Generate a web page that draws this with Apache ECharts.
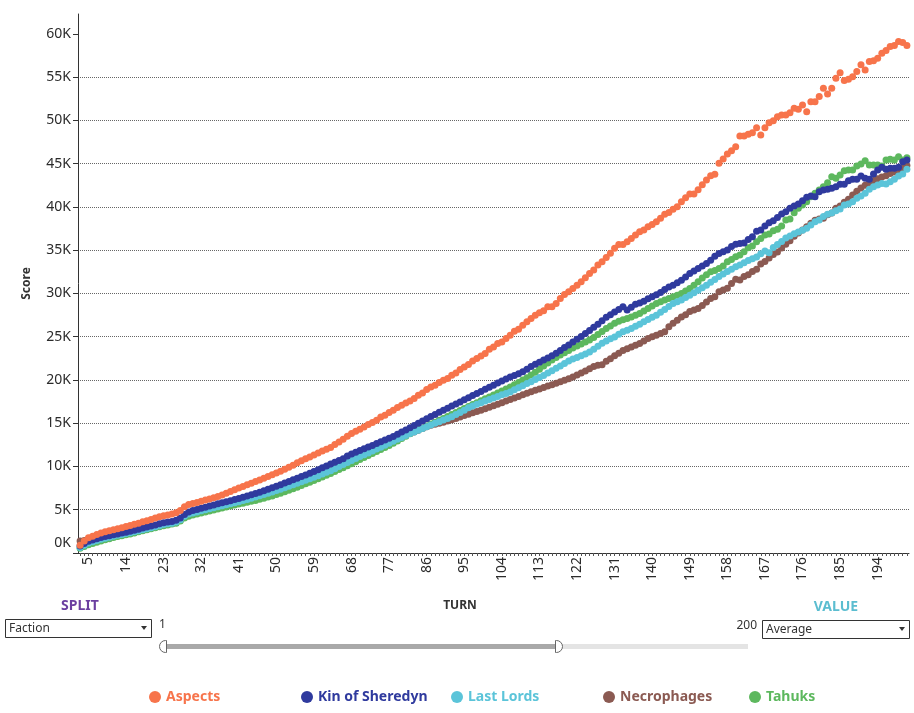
<!DOCTYPE html>
<html lang="en">

<head>
    <meta charset="UTF-8">
    <title>Score by turn</title>
    <style type="text/css">
        html, body { margin: 0; padding: 0; background: #fff; }
        #main { width: 914px; height: 713px; }
    </style>
</head>

<body>
    <div id="main"></div>
    <script src="https://cdn.jsdelivr.net/npm/echarts@6/dist/echarts.min.js"></script>
    <script type="text/javascript">
        // turns 3..201 on the x axis
        var turns = [];
        for (var t = 3; t <= 201; t++) turns.push(String(t));

        var yTicks = [0, 5000, 10000, 15000, 20000, 25000, 30000, 35000, 40000, 45000, 50000, 55000, 60000];

        var factions = ['Aspects', 'Kin of Sheredyn', 'Last Lords', 'Necrophages', 'Tahuks'];
        var colors = ['#f7744b', '#2f3a9e', '#5bc4d9', '#8b5a52', '#5db85e'];

        var aspects = [
            900, 1400, 1750, 1950, 2150, 2300, 2450, 2580, 2700, 2800,
            2920, 3050, 3180, 3330, 3450, 3600, 3720, 3880, 4050, 4180,
            4300, 4400, 4520, 4650, 4900, 5350, 5600, 5720, 5850, 5980,
            6120, 6250, 6400, 6530, 6700, 6900, 7100, 7320, 7520, 7700,
            7880, 8050, 8250, 8450, 8650, 8850, 9050, 9250, 9450, 9680,
            9900, 10150, 10420, 10650, 10880, 11100, 11330, 11550, 11780, 11980,
            12180, 12530, 12830, 13140, 13490, 13800, 14070, 14300, 14570, 14840,
            15070, 15340, 15730, 15920, 16230, 16500, 16810, 17080, 17350, 17580,
            17850, 18230, 18500, 18890, 19190, 19390, 19700, 19970, 20170, 20550,
            20810, 21210, 21510, 21790, 22200, 22480, 22780, 23060, 23560, 23820,
            24220, 24400, 24800, 25180, 25640, 25870, 26330, 26720, 27110, 27490,
            27760, 27990, 28450, 28450, 28840, 29420, 29890, 30190, 30580, 30960,
            31340, 31810, 32310, 32700, 33280, 33660, 34150, 34650, 35210, 35670,
            35670, 35970, 36360, 36750, 37130, 37320, 37710, 37980, 38290, 38680,
            39140, 39370, 39720, 40020, 40600, 41060, 41490, 41490, 42000, 42570,
            43110, 43610, 43770, 45040, 45540, 46120, 46500, 46960, 48200, 48200,
            48390, 48580, 49160, 48320, 49160, 49740, 49970, 50430, 50630, 50630,
            50900, 51400, 51290, 51790, 51010, 52170, 52170, 52750, 53720, 53060,
            53720, 54880, 55520, 54600, 54760, 55060, 55640, 56420, 55840, 56800,
            56910, 57190, 57770, 58070, 58530, 58650, 59110, 59000, 58650
        ];

        var kinOfSheredyn = [
            800, 1100, 1350, 1500, 1650, 1780, 1900, 2000, 2100, 2200,
            2300, 2400, 2500, 2620, 2750, 2880, 3000, 3120, 3250, 3380,
            3500, 3580, 3650, 3780, 4050, 4450, 4750, 4900, 5030, 5160,
            5290, 5420, 5550, 5680, 5800, 5920, 6050, 6180, 6300, 6430,
            6580, 6730, 6880, 7030, 7200, 7380, 7550, 7720, 7900, 8080,
            8270, 8460, 8650, 8840, 9030, 9230, 9430, 9630, 9840, 10050,
            10300, 10500, 10700, 10900, 11200, 11450, 11650, 11850, 12050, 12250,
            12430, 12650, 12850, 13050, 13250, 13480, 13720, 13980, 14230, 14480,
            14740, 15000, 15250, 15520, 15780, 16020, 16260, 16500, 16740, 16980,
            17220, 17460, 17700, 17950, 18200, 18430, 18670, 18920, 19160, 19400,
            19640, 19880, 20120, 20350, 20530, 20720, 20950, 21250, 21560, 21810,
            22050, 22300, 22550, 22800, 23100, 23420, 23740, 24050, 24380, 24700,
            25030, 25380, 25720, 26080, 26450, 26850, 27250, 27550, 27850, 28150,
            28450, 28080, 28400, 28760, 28900, 29100, 29400, 29620, 29850, 30100,
            30450, 30750, 30960, 31250, 31540, 31900, 32310, 32600, 32890, 33160,
            33470, 33850, 34300, 34630, 34810, 35010, 35420, 35700, 35780, 35830,
            36250, 36550, 37200, 37330, 37790, 38170, 38400, 38790, 39180, 39440,
            39840, 40100, 40330, 40720, 41110, 41260, 41180, 41760, 41950, 42030,
            42150, 42330, 42610, 42610, 43030, 43190, 43190, 43570, 43310, 43190,
            43800, 44270, 44580, 44350, 44460, 44460, 44580, 45230, 45420
        ];

        var lastLords = [
            650, 900, 1150, 1300, 1450, 1580, 1700, 1820, 1930, 2040,
            2140, 2240, 2340, 2450, 2570, 2690, 2800, 2920, 3040, 3160,
            3280, 3370, 3450, 3570, 3850, 4250, 4500, 4630, 4750, 4870,
            4990, 5110, 5230, 5350, 5460, 5570, 5690, 5810, 5930, 6060,
            6190, 6330, 6470, 6610, 6760, 6910, 7060, 7220, 7380, 7550,
            7720, 7890, 8060, 8230, 8400, 8580, 8760, 8940, 9130, 9320,
            9520, 9750, 9990, 10230, 10470, 10700, 10930, 11150, 11360, 11560,
            11780, 12010, 12230, 12460, 12690, 12910, 13140, 13360, 13580, 13800,
            14000, 14200, 14400, 14600, 14800, 14990, 15180, 15370, 15560, 15760,
            16000, 16250, 16500, 16780, 17000, 17200, 17380, 17560, 17750, 17920,
            18100, 18280, 18450, 18620, 18860, 19100, 19340, 19580, 19800, 20050,
            20290, 20530, 20800, 21070, 21340, 21620, 21900, 22200, 22430, 22600,
            22800, 23000, 23240, 23550, 23900, 24250, 24500, 24750, 24980, 25270,
            25560, 25750, 25950, 26200, 26450, 26720, 26990, 27250, 27490, 27820,
            28150, 28500, 28840, 29030, 29230, 29520, 29800, 30090, 30380, 30670,
            30960, 31290, 31620, 31950, 32250, 32550, 32800, 33100, 33300, 33550,
            33800, 34000, 34200, 34600, 34900, 34700, 35300, 35650, 36000, 36400,
            36650, 36900, 37100, 37300, 37550, 37900, 38300, 38500, 38900, 39150,
            39300, 39550, 39750, 40220, 40330, 40600, 40990, 41260, 41570, 42030,
            42330, 42530, 42720, 42650, 42920, 43190, 43570, 43800, 44350
        ];

        var necrophages = [
            1400, 1450, 1500, 1560, 1620, 1700, 1780, 1870, 1960, 2050,
            2140, 2240, 2340, 2440, 2540, 2650, 2760, 2880, 3000, 3120,
            3240, 3330, 3420, 3540, 3800, 4200, 4450, 4580, 4700, 4820,
            4940, 5060, 5180, 5300, 5410, 5520, 5640, 5760, 5880, 6000,
            6130, 6260, 6400, 6540, 6690, 6840, 6990, 7150, 7310, 7480,
            7680, 7870, 8060, 8250, 8440, 8640, 8840, 9040, 9240, 9420,
            9580, 9770, 10000, 10220, 10430, 10650, 10880, 11120, 11350, 11580,
            11800, 12020, 12250, 12470, 12680, 12900, 13130, 13350, 13580, 13800,
            14000, 14200, 14390, 14580, 14760, 14880, 15000, 15120, 15250, 15400,
            15560, 15720, 15880, 16040, 16200, 16350, 16500, 16680, 16860, 17030,
            17200, 17380, 17560, 17740, 17920, 18100, 18280, 18460, 18640, 18800,
            18960, 19120, 19300, 19460, 19620, 19790, 19960, 20130, 20350, 20580,
            20800, 21050, 21300, 21550, 21700, 21750, 22150, 22450, 22800, 23100,
            23400, 23600, 23820, 24020, 24220, 24500, 24800, 25000, 25180, 25370,
            25560, 26140, 26550, 26910, 27290, 27550, 27900, 28100, 28270, 28600,
            29000, 29420, 29610, 30190, 30400, 30600, 31160, 31650, 31550, 31950,
            32150, 32550, 32800, 33400, 33700, 34100, 34500, 34800, 35250, 35700,
            36100, 36600, 37000, 37330, 37700, 38100, 38450, 38600, 38700, 39100,
            39300, 39850, 40100, 40550, 40900, 41380, 41800, 42200, 42500, 42800,
            43050, 43250, 43450, 43600, 43850, 44050, 44250, 44500, 44800
        ];

        var tahuks = [
            550, 750, 950, 1100, 1250, 1400, 1530, 1650, 1780, 1900,
            2000, 2100, 2200, 2320, 2450, 2570, 2680, 2800, 2920, 3030,
            3150, 3250, 3340, 3450, 3700, 4050, 4250, 4380, 4500, 4620,
            4740, 4860, 4980, 5100, 5210, 5320, 5430, 5540, 5650, 5760,
            5870, 5980, 6080, 6200, 6330, 6460, 6600, 6760, 6920, 7080,
            7250, 7430, 7610, 7800, 7990, 8180, 8380, 8580, 8780, 8990,
            9200, 9420, 9640, 9860, 10080, 10330, 10560, 10800, 11030, 11260,
            11490, 11720, 11950, 12190, 12430, 12680, 12950, 13220, 13500, 13780,
            14030, 14250, 14460, 14680, 14900, 15120, 15340, 15560, 15780, 16000,
            16230, 16460, 16690, 16920, 17150, 17380, 17600, 17820, 18040, 18270,
            18500, 18730, 18960, 19190, 19450, 19720, 19990, 20270, 20560, 20900,
            21250, 21600, 21950, 22300, 22600, 22880, 23150, 23420, 23690, 23920,
            24150, 24380, 24620, 24900, 25250, 25600, 25950, 26250, 26550, 26800,
            26950, 27100, 27290, 27480, 27690, 27980, 28270, 28550, 28840, 29040,
            29230, 29420, 29610, 29800, 30000, 30290, 30580, 30950, 31340, 31800,
            32150, 32500, 32650, 32890, 33160, 33660, 33930, 34240, 34430, 34810,
            35280, 35470, 35970, 36360, 36750, 36860, 37240, 37410, 37790, 38480,
            38600, 39330, 39840, 40220, 40600, 41180, 41570, 41950, 42330, 42800,
            43490, 43310, 43690, 44190, 44270, 44270, 44730, 44960, 45340, 44850,
            44850, 44850, 44730, 45420, 45500, 45420, 45810, 45420, 45690
        ];

        var seriesValues = [aspects, kinOfSheredyn, lastLords, necrophages, tahuks];
        var legendX = [155, 307, 457, 609, 755];
        var font = 'Noto Sans';

        // draw order: Necrophages at the bottom, Aspects on top
        var drawOrder = [3, 4, 2, 1, 0];
        var series = drawOrder.map(function (i) {
            return {
                name: factions[i],
                type: 'scatter',
                data: seriesValues[i],
                symbol: 'circle',
                symbolSize: 7,
                itemStyle: { color: colors[i], opacity: 1 },
                emphasis: { disabled: true }
            };
        });

        var legends = factions.map(function (name, i) {
            return {
                data: [name],
                left: legendX[i] - 6,
                top: 686,
                padding: 0,
                icon: 'circle',
                itemWidth: 12,
                itemHeight: 12,
                selectedMode: false,
                textStyle: { color: colors[i], fontWeight: 'bold', fontSize: 14, fontFamily: font, lineHeight: 18, padding: [4, 0, 0, 0] }
            };
        });

        function arrow(cx, cy) {
            return {
                type: 'polygon',
                shape: { points: [[cx - 3, cy - 2], [cx + 3, cy - 2], [cx, cy + 2]] },
                style: { fill: '#333' }
            };
        }

        var myChart = echarts.init(document.getElementById('main'));
        var option = {
            animation: false,
            textStyle: { fontFamily: font },
            grid: { left: 78, right: 5, top: 14, bottom: 160 },
            legend: legends,
            xAxis: {
                type: 'category',
                data: turns,
                boundaryGap: true,
                axisLine: { lineStyle: { color: '#333', width: 1 } },
                axisTick: { show: true, interval: 0, alignWithLabel: true, length: 3, lineStyle: { color: '#555' } },
                axisLabel: {
                    interval: function (index) { return index % 9 === 2; },
                    rotate: 90,
                    margin: 4,
                    fontSize: 14,
                    color: '#2b2b2b',
                    fontFamily: font
                },
                splitLine: { show: false }
            },
            yAxis: {
                type: 'value',
                min: 0,
                max: 62300,
                interval: 5000,
                name: 'Score',
                nameLocation: 'middle',
                nameGap: 45,
                nameTextStyle: { fontSize: 12, fontWeight: 'bold', color: '#333', fontFamily: font },
                axisLine: { show: true, lineStyle: { color: '#333', width: 1 } },
                axisTick: { show: true, length: 5, customValues: yTicks, lineStyle: { color: '#333' } },
                axisLabel: {
                    customValues: yTicks,
                    margin: 7,
                    fontSize: 14,
                    color: '#2b2b2b',
                    fontFamily: font,
                    formatter: function (v) {
                        if (v === 0) return '{z|0K}';
                        return (v / 1000) + 'K';
                    },
                    rich: {
                        z: { fontSize: 14, color: '#2b2b2b', fontFamily: font, padding: [0, 0, 20, 0] }
                    }
                },
                splitLine: {
                    show: true,
                    showMinLine: false,
                    showMaxLine: false,
                    lineStyle: { type: 'dotted', color: '#666', width: 1 }
                }
            },
            graphic: [
                { type: 'text', x: 80, y: 606, style: { text: 'SPLIT', fill: '#6b3fa0', font: 'bold 14px ' + font, align: 'center', verticalAlign: 'middle' } },
                { type: 'text', x: 460, y: 606, style: { text: 'TURN', fill: '#333', font: 'bold 12px ' + font, align: 'center', verticalAlign: 'middle' } },
                { type: 'text', x: 836, y: 607, style: { text: 'VALUE', fill: '#5bbdd0', font: 'bold 14px ' + font, align: 'center', verticalAlign: 'middle' } },
                { type: 'rect', shape: { x: 5.5, y: 619.5, width: 146, height: 18 }, style: { fill: '#fff', stroke: '#333', lineWidth: 1 } },
                { type: 'text', x: 9, y: 629, style: { text: 'Faction', fill: '#333', font: '12px ' + font, verticalAlign: 'middle' } },
                arrow(144, 628),
                { type: 'rect', shape: { x: 762.5, y: 620.5, width: 147, height: 18 }, style: { fill: '#fff', stroke: '#333', lineWidth: 1 } },
                { type: 'text', x: 766, y: 630, style: { text: 'Average', fill: '#333', font: '12px ' + font, verticalAlign: 'middle' } },
                arrow(902, 629),
                { type: 'text', x: 159, y: 625, style: { text: '1', fill: '#333', font: '12px ' + font, verticalAlign: 'middle' } },
                { type: 'text', x: 757, y: 626, style: { text: '200', fill: '#333', font: '12px ' + font, align: 'right', verticalAlign: 'middle' } },
                { type: 'rect', shape: { x: 163, y: 644, width: 585, height: 5 }, style: { fill: '#e4e4e4' } },
                { type: 'rect', shape: { x: 163, y: 644, width: 395, height: 5 }, style: { fill: '#a9a9a9' } },
                { type: 'rect', shape: { x: 159.5, y: 640.5, width: 7, height: 12, r: [6, 0, 0, 6] }, style: { fill: '#fff', stroke: '#666', lineWidth: 1 } },
                { type: 'rect', shape: { x: 555.5, y: 640.5, width: 7, height: 12, r: [0, 6, 6, 0] }, style: { fill: '#fff', stroke: '#666', lineWidth: 1 } }
            ],
            series: series
        };
        myChart.setOption(option);
    </script>
</body>

</html>
